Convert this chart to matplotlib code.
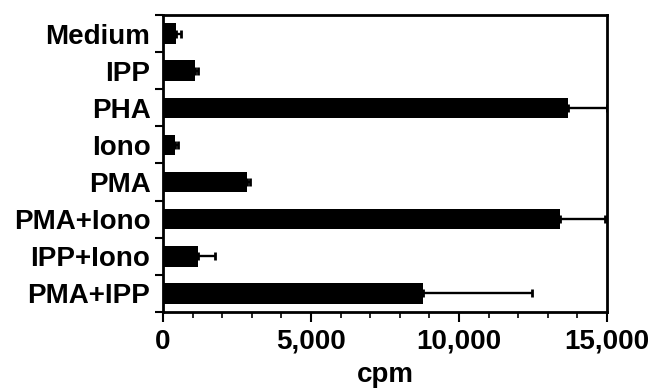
import matplotlib
matplotlib.use("Agg")
import matplotlib.pyplot as plt
from matplotlib.ticker import MultipleLocator, FuncFormatter
import numpy as np

# stimulation conditions, top to bottom
conditions = ["Medium", "IPP", "PHA", "Iono", "PMA", "PMA+Iono", "IPP+Iono", "PMA+IPP"]
cpm_mean = [440, 1085, 13680, 400, 2850, 13410, 1190, 8800]
cpm_err = [170, 105, 1320, 100, 100, 1520, 570, 3660]

plt.rcParams["font.family"] = ["Liberation Sans", "DejaVu Sans"]
plt.rcParams["font.weight"] = "bold"

fig = plt.figure(figsize=(6.53, 3.89), dpi=100)
ax = fig.add_axes([0.2496, 0.198, 0.68, 0.7634])

y = np.arange(len(conditions))
ax.barh(y, cpm_mean, height=0.55, color="black",
        xerr=[np.zeros(len(cpm_err)), cpm_err],
        error_kw=dict(ecolor="black", elinewidth=1.7, capsize=3, capthick=2))

ax.set_ylim(len(conditions) - 0.5, -0.5)
ax.set_xlim(0, 15000)

# y ticks sit on category boundaries, labels centred on bars
ax.set_yticks(np.arange(-0.5, len(conditions), 1.0))
ax.set_yticklabels([])
ax.set_yticks(y, minor=True)
ax.set_yticklabels(conditions, minor=True, fontsize=20, fontweight="bold")
ax.tick_params(axis="y", which="major", length=6, width=1.5, direction="out")
ax.tick_params(axis="y", which="minor", length=0, pad=9)

ax.xaxis.set_major_locator(MultipleLocator(5000))
ax.xaxis.set_minor_locator(MultipleLocator(1000))
ax.xaxis.set_major_formatter(FuncFormatter(lambda v, p: f"{int(v):,}"))
ax.tick_params(axis="x", which="major", length=7, width=1.5, labelsize=20, pad=5)
ax.tick_params(axis="x", which="minor", length=4, width=1.2)
for lab in ax.get_xticklabels():
    lab.set_fontweight("bold")

ax.set_xlabel("cpm", fontsize=20, fontweight="bold", labelpad=5)

for s in ax.spines.values():
    s.set_linewidth(2)

fig.savefig("out.png", dpi=100)
